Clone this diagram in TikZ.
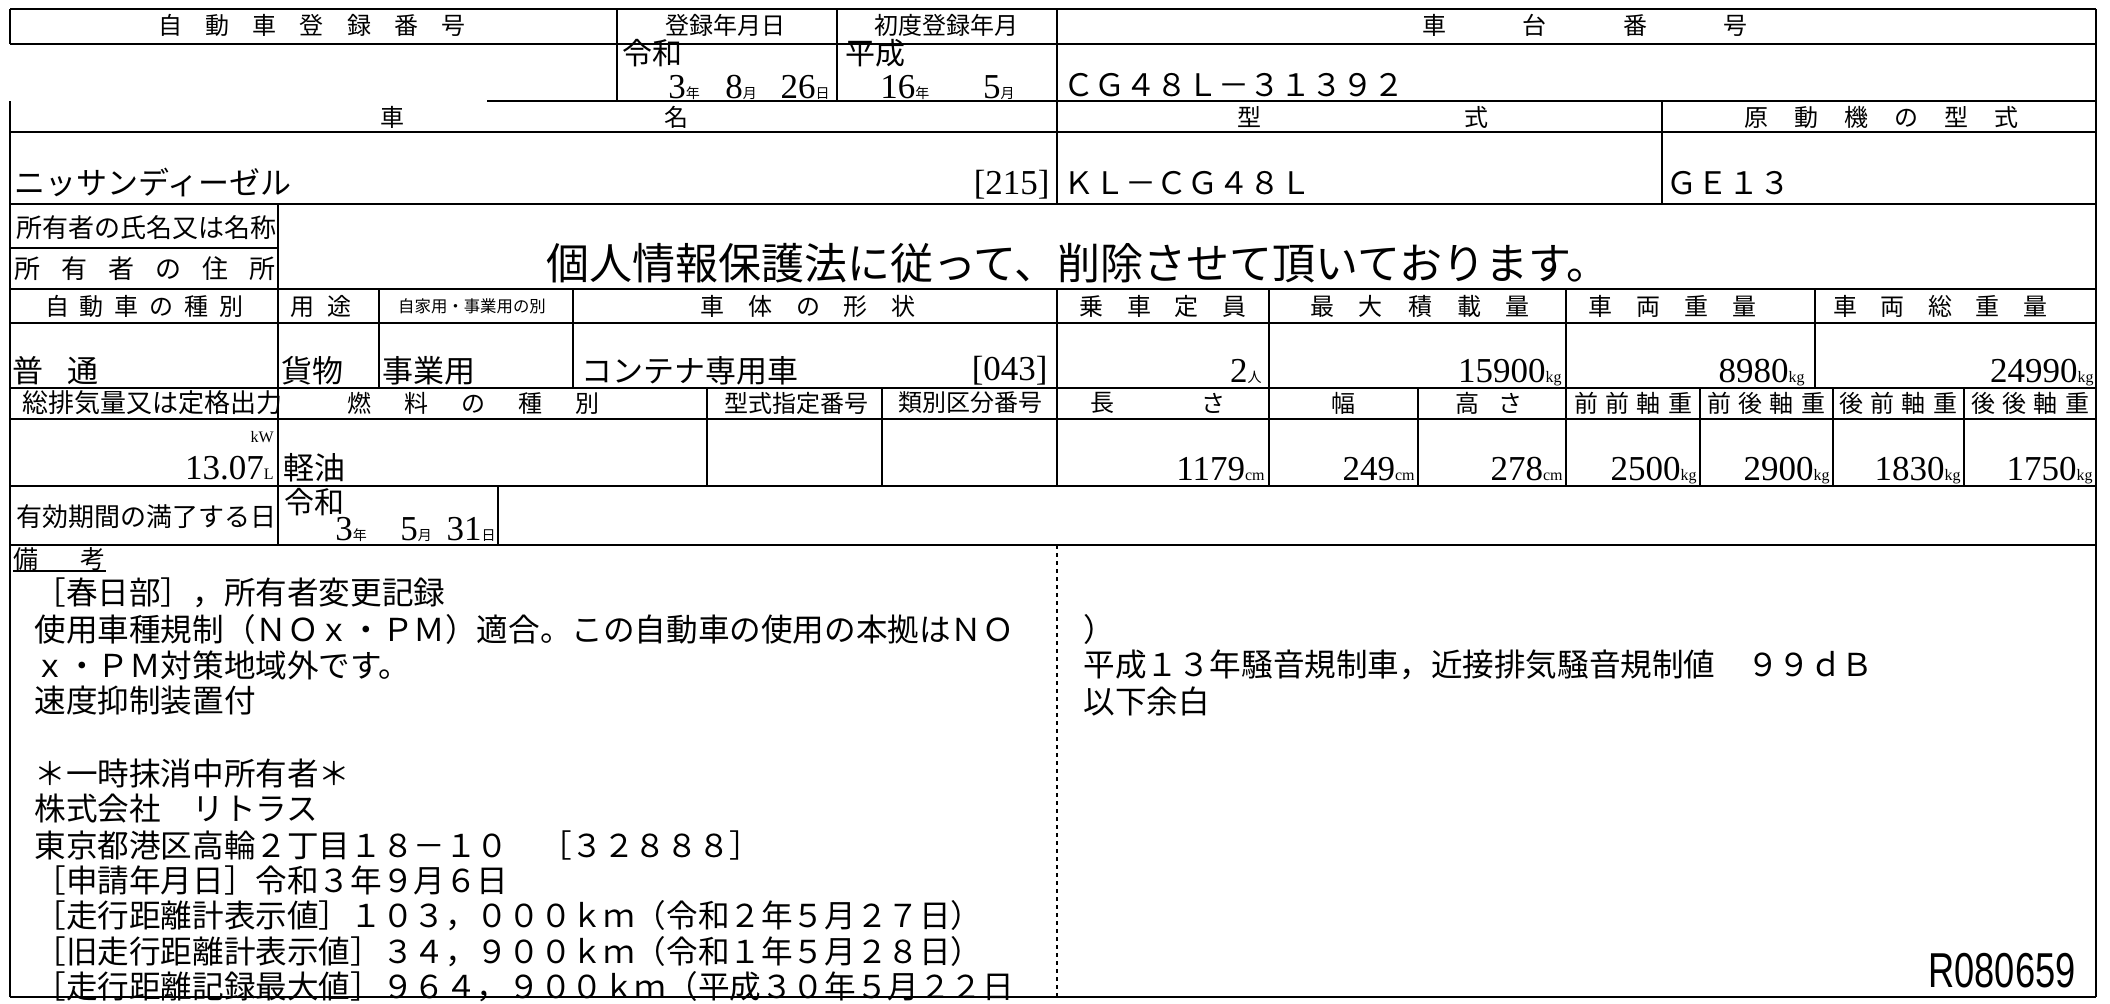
\documentclass[tikz,border=0pt]{standalone}
\usepackage{fontspec}
\setmainfont{Liberation Serif}
\setsansfont{Liberation Sans}
\newfontfamily\jp{Noto Sans CJK JP}
\usetikzlibrary{positioning}
\newlength\px
\setlength\px{0.5pt}
\newcommand{\fs}[1]{\fontsize{#1}{#1}\selectfont}
\newcommand{\spr}[2]{\makebox[#1\px]{#2}}
\newcommand{\un}[1]{{\jp\fs{7}#1}}
\newcommand{\unl}[1]{{\fs{8}#1}}
\tikzstyle{rule}=[line width=0.9pt]
\tikzstyle{thin}=[line width=0.6pt]
\tikzstyle{hd}=[inner sep=0pt, font=\jp\fs{12}]
\tikzstyle{lbl}=[inner sep=0pt, anchor=west, font=\jp\fs{13}]
\tikzstyle{val}=[inner sep=0pt, anchor=west, font=\jp\fs{15.5}]
\tikzstyle{num}=[inner sep=0pt, anchor=base east, font=\fs{17.5}]
\tikzstyle{rem}=[inner sep=0pt, anchor=west, font=\jp\fs{15.8}]

\begin{document}
\begin{tikzpicture}[x=0.5pt,y=-0.5pt]
    \fill[white] (0,0) rectangle (2110,1003);
    \useasboundingbox (0,0) rectangle (2110,1003);
    % frame
    \draw[rule] (10,9) -- (2096,9);
    \draw[rule] (10,44) -- (2096,44);
    \draw[rule] (487,101) -- (2096,101);
    \draw[rule] (10,132) -- (2096,132);
    \draw[rule] (10,204) -- (2096,204);
    \draw[thin] (10,248) -- (278,248);
    \draw[rule] (10,289) -- (2096,289);
    \draw[thin] (10,323) -- (2096,323);
    \draw[rule] (10,388) -- (2096,388);
    \draw[thin] (10,419) -- (2096,419);
    \draw[rule] (10,486) -- (2096,486);
    \draw[rule] (10,545) -- (2096,545);
    \draw[rule] (10,997) -- (2096,997);
    \draw[rule] (10,9) -- (10,44);
    \draw[rule] (10,101) -- (10,997);
    \draw[rule] (2096,9) -- (2096,997);
    \draw[thin] (617,9) -- (617,101);
    \draw[thin] (837,9) -- (837,101);
    \draw[thin] (1057,9) -- (1057,204);
    \draw[thin] (1662,101) -- (1662,204);
    \draw[thin] (278,204) -- (278,545);
    \draw[thin] (379,289) -- (379,388);
    \draw[thin] (573,289) -- (573,388);
    \draw[thin] (1057,289) -- (1057,486);
    \draw[thin] (1269,289) -- (1269,486);
    \draw[thin] (1566,289) -- (1566,486);
    \draw[thin] (1815,289) -- (1815,388);
    \draw[thin] (707,388) -- (707,486);
    \draw[thin] (882,388) -- (882,486);
    \draw[thin] (1418,388) -- (1418,486);
    \draw[thin] (1700,388) -- (1700,486);
    \draw[thin] (1833,388) -- (1833,486);
    \draw[thin] (1964,388) -- (1964,486);
    \draw[thin] (498,486) -- (498,545);
    \draw[thin, dash pattern=on 2pt off 2pt] (1057,545) -- (1057,997);

    % registration rows
    \node[hd] (regno) at (312,25) {\spr{307}{自\hfill 動\hfill 車\hfill 登\hfill 録\hfill 番\hfill 号}};
    \node[hd] (regdate) at (725,25) {登録年月日};
    \node[hd] (firstreg) at (946,25) {初度登録年月};
    \node[hd] (chassis) at (1585,25) {\spr{325}{車\hfill 台\hfill 番\hfill 号}};
    \node[val, font=\jp\fs{15}] (era1) at (622,53) {令和};
    \node[num, anchor=base west] (d1) at (668,98) {3\un{年}};
    \node[num, anchor=base west] (d2) at (725,98) {8\un{月}};
    \node[num] (d3) at (830,98) {26\un{日}};
    \node[val, font=\jp\fs{15}] (era2) at (845,53) {平成};
    \node[num, anchor=base west] (f1) at (880,98) {16\un{年}};
    \node[num] (f2) at (1015,98) {5\un{月}};
    \node[val, anchor=base west] (chassisno) at (1063,96) {ＣＧ４８Ｌ－３１３９２};

    % name and type
    \node[hd] (name1) at (392,117) {車};
    \node[hd] (name2) at (676,117) {名};
    \node[hd] (type1) at (1249,117) {型};
    \node[hd] (type2) at (1476,117) {式};
    \node[hd] (engine) at (1881,117) {\spr{274}{原\hfill 動\hfill 機\hfill の\hfill 型\hfill 式}};
    \node[val, anchor=base west] (maker) at (14,194) {ニッサンディーゼル};
    \node[num] (makercode) at (1050,194) {[215]};
    \node[val, anchor=base west] (model) at (1063,194) {ＫＬ－ＣＧ４８Ｌ};
    \node[val, anchor=base west] (enginetype) at (1666,194) {ＧＥ１３};

    % owner
    \node[lbl] (ownername) at (16,228) {所有者の氏名又は名称};
    \node[hd, font=\jp\fs{13}] (owneraddr) at (145,269) {\spr{262}{所\hfill 有\hfill 者\hfill の\hfill 住\hfill 所}};
    \node[inner sep=0pt, font=\jp\fs{21.5}] (removed) at (1078,263) {個人情報保護法に従って、削除させて頂いております。};

    % kind, use, body
    \node[hd] (kind) at (144,306) {\spr{198}{自\hfill 動\hfill 車\hfill の\hfill 種\hfill 別}};
    \node[hd] (use) at (321,306) {\spr{61}{用\hfill 途}};
    \node[hd, font=\jp\fs{8.2}] (private) at (472,306) {自家用・事業用の別};
    \node[hd] (body) at (808,306) {\spr{215}{車\hfill 体\hfill の\hfill 形\hfill 状}};
    \node[hd] (seats) at (1163,306) {\spr{167}{乗\hfill 車\hfill 定\hfill 員}};
    \node[hd] (load) at (1420,306) {\spr{220}{最\hfill 大\hfill 積\hfill 載\hfill 量}};
    \node[hd] (weight) at (1672,306) {\spr{168}{車\hfill 両\hfill 重\hfill 量}};
    \node[hd] (gross) at (1940,306) {\spr{214}{車\hfill 両\hfill 総\hfill 重\hfill 量}};
    \node[val] (kindval) at (12,371) {\spr{86}{普\hfill 通}};
    \node[val] (useval) at (281,371) {貨物};
    \node[val] (privval) at (382,371) {事業用};
    \node[val] (bodyval) at (581,371) {コンテナ専用車};
    \node[num] (bodycode) at (1048,380) {[043]};
    \node[num] (seatsval) at (1262,382) {2\un{人}};
    \node[num] (loadval) at (1562,382) {15900\unl{kg}};
    \node[num] (weightval) at (1805,382) {8980\unl{kg}};
    \node[num] (grossval) at (2094,382) {24990\unl{kg}};

    % displacement, fuel, dimensions, axles
    \node[lbl] (disp) at (22,403) {総排気量又は定格出力};
    \node[hd] (fuel) at (473,403) {\spr{252}{燃\hfill 料\hfill の\hfill 種\hfill 別}};
    \node[hd] (typeno) at (796,403) {型式指定番号};
    \node[hd] (classno) at (970,403) {類別区分番号};
    \node[hd] (len1) at (1102,403) {長};
    \node[hd] (len2) at (1213,403) {さ};
    \node[hd] (width) at (1343,403) {幅};
    \node[hd] (ht1) at (1467,403) {高};
    \node[hd] (ht2) at (1510,403) {さ};
    \node[hd] (ff) at (1633,403) {\spr{118}{前\hfill 前\hfill 軸\hfill 重}};
    \node[hd] (fr) at (1766,403) {\spr{118}{前\hfill 後\hfill 軸\hfill 重}};
    \node[hd] (rf) at (1898,403) {\spr{118}{後\hfill 前\hfill 軸\hfill 重}};
    \node[hd] (rr) at (2030,403) {\spr{118}{後\hfill 後\hfill 軸\hfill 重}};
    \node[inner sep=0pt, anchor=east, font=\fs{8}] (kw) at (274,437) {kW};
    \node[num] (dispval) at (274,479) {13.07\unl{L}};
    \node[val] (fuelval) at (283,468) {軽油};
    \node[num] (lenval) at (1265,480) {1179\unl{cm}};
    \node[num] (widthval) at (1415,480) {249\unl{cm}};
    \node[num] (htval) at (1563,480) {278\unl{cm}};
    \node[num] (ffval) at (1697,480) {2500\unl{kg}};
    \node[num] (frval) at (1830,480) {2900\unl{kg}};
    \node[num] (rfval) at (1961,480) {1830\unl{kg}};
    \node[num] (rrval) at (2093,480) {1750\unl{kg}};

    % expiry
    \node[lbl] (expiry) at (16,517) {有効期間の満了する日};
    \node[val, font=\jp\fs{15}] (era3) at (284,502) {令和};
    \node[num, anchor=base west] (e1) at (335,540) {3\un{年}};
    \node[num, anchor=base west] (e2) at (400,540) {5\un{月}};
    \node[num] (e3) at (496,540) {31\un{日}};

    % remarks
    \node[hd, anchor=west, font=\jp\fs{12.5}] (biko) at (13,559) {\spr{92}{備\hfill 考}};
    \draw[thin] (biko.south west) -- (biko.south east);
    \node[rem] (r1) at (34,593) {［春日部］，所有者変更記録};
    \node[rem] (r2) at (34,629) {使用車種規制（ＮＯｘ・ＰＭ）適合。この自動車の使用の本拠はＮＯ};
    \node[rem] (r3) at (34,665) {ｘ・ＰＭ対策地域外です。};
    \node[rem] (r4) at (34,701) {速度抑制装置付};
    \node[rem] (r5) at (34,773) {＊一時抹消中所有者＊};
    \node[rem] (r6) at (34,809) {株式会社　リトラス};
    \node[rem] (r7) at (34,845) {東京都港区高輪２丁目１８－１０　［３２８８８］};
    \node[rem] (r8) at (34,880) {［申請年月日］令和３年９月６日};
    \node[rem] (r9) at (34,916) {［走行距離計表示値］１０３，０００ｋｍ（令和２年５月２７日）};
    \node[rem] (r10) at (34,952) {［旧走行距離計表示値］３４，９００ｋｍ（令和１年５月２８日）};
    \node[rem] (r11) at (34,987) {［走行距離記録最大値］９６４，９００ｋｍ（平成３０年５月２２日};
    \node[rem] (s1) at (1083,629) {）};
    \node[rem] (s2) at (1083,665) {平成１３年騒音規制車，近接排気騒音規制値　９９ｄＢ};
    \node[rem] (s3) at (1083,701) {以下余白};
    \node[inner sep=0pt, anchor=base east, font=\sffamily\fs{24.5}] (serial) at (2076,987) {\scalebox{0.74}[1]{R080659}};
\end{tikzpicture}
\end{document}
